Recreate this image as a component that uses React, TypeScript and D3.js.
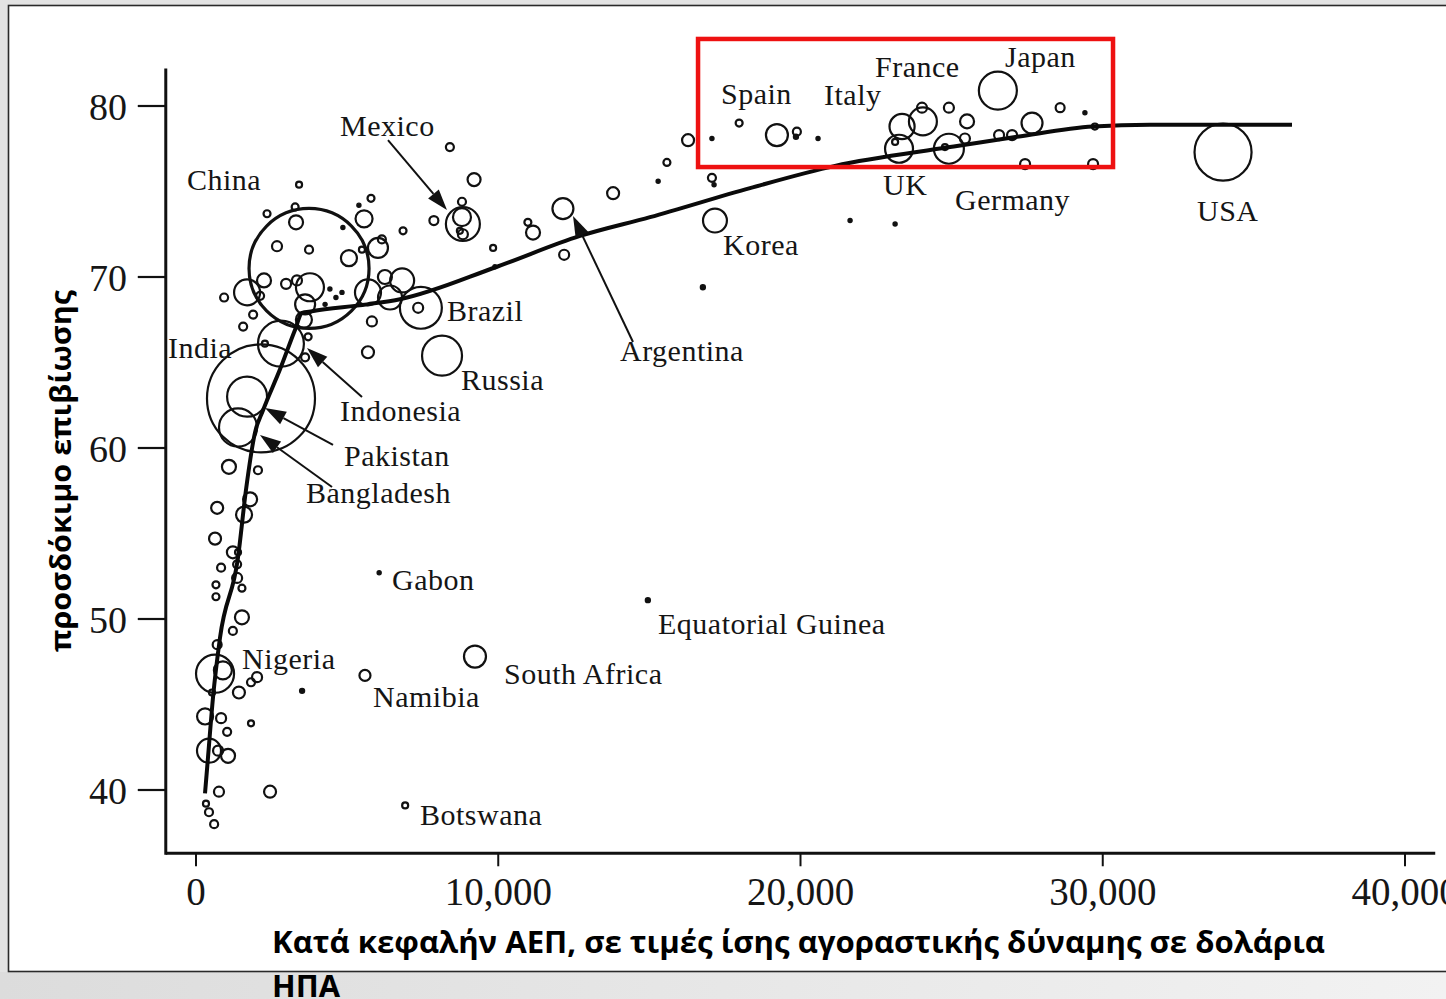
import React from 'react';
import * as d3 from 'd3';

// Axis ticks
const xTicks = [0, 10000, 20000, 30000, 40000];
const xTickLabels = ['0', '10,000', '20,000', '30,000', '40,000'];
const yTicks = [40, 50, 60, 70, 80];

// Fitted curve: [GDP per capita, life expectancy]
const curvePoints: [number, number][] = [
  [298, 39.8], [397, 41.9], [562, 45.4], [794, 48.9], [1390, 53.6], [1650, 57.5],
  [1952, 60.9], [2217, 62.2], [2780, 64.6], [3275, 66.9], [3507, 67.9], [3838, 68.0],
  [5658, 68.4], [6749, 68.7], [9959, 70.6], [12705, 72.4], [15021, 73.5], [18329, 75.2],
  [21141, 76.5], [24946, 77.6], [27163, 78.2], [29677, 78.8], [31563, 78.9], [36261, 78.9],
];

// Countries: [GDP per capita, life expectancy, population (millions)]
const labelledCountries: [number, number, number][] = [
  [3740, 70.5, 1235], [2150, 62.9, 1000], [2810, 66.1, 181], [1690, 63.0, 137],
  [1390, 61.2, 124], [7440, 68.2, 151], [8140, 65.4, 137], [630, 46.8, 124],
  [8830, 73.1, 99], [26530, 80.9, 124], [33980, 77.3, 279], [24910, 77.5, 77],
  [23260, 77.5, 67], [23360, 78.8, 54], [24050, 79.1, 67], [19220, 78.3, 41.5],
  [17170, 73.3, 49], [12140, 74.0, 37.8], [9230, 47.8, 41.5], [27660, 79.0, 37.8],
  [5590, 46.7, 10.4], [6060, 52.7, 1.4], [6920, 39.1, 3.1], [14950, 51.1, 2.1],
];

const middleCountries: [number, number, number][] = [
  [3410, 75.4, 3.1], [2350, 73.7, 4.2], [3280, 74.1, 4.2], [3310, 73.2, 16.8],
  [5790, 74.6, 4.2], [5390, 74.2, 1.4], [5560, 73.4, 24.8], [4860, 72.9, 1.4],
  [6850, 72.7, 4.2], [7870, 73.3, 6.9], [2680, 71.8, 8.6], [3740, 71.6, 5.5],
  [5060, 71.1, 22], [6020, 71.7, 34.3], [6150, 72.2, 5.5], [5490, 71.6, 3.1],
  [2250, 69.8, 16.8], [1690, 69.1, 58], [2120, 68.9, 5.5], [930, 68.8, 5.5],
  [2980, 69.6, 8.6], [3340, 69.8, 8.6], [3770, 69.4, 67.2], [3610, 68.4, 34.3],
  [4430, 69.3, 1.4], [4630, 68.8, 1.4], [4830, 69.1, 1.4], [4270, 68.4, 1.4],
  [5690, 69.1, 58], [6250, 70.0, 16.8], [6820, 69.8, 49.4], [6420, 68.8, 49.4],
  [7350, 68.2, 8.6], [1890, 67.8, 5.5], [1560, 67.1, 5.5], [5820, 67.4, 8.6],
  [5690, 65.6, 12.3], [3710, 66.5, 4.2], [2280, 66.1, 3.1], [3570, 67.5, 22],
  [3610, 65.3, 5.5],
  [8400, 77.6, 5.5], [9200, 75.7, 14.5], [8800, 74.4, 5.5], [8800, 73.5, 27.8],
  [8730, 72.7, 3.1], [8830, 72.5, 8.6], [9830, 71.7, 3.1], [10980, 73.2, 4.2],
  [11150, 72.6, 16.8], [12180, 71.3, 8.6], [9890, 70.6, 1.4], [13800, 74.9, 12.3],
  [15290, 75.6, 1.4], [15580, 76.7, 4.2], [17070, 75.8, 5.5], [17140, 75.4, 1.4],
  [16770, 69.4, 2.1],
];

const richCountries: [number, number, number][] = [
  [16280, 78.0, 12.3], [17070, 78.1, 1.4], [17970, 79.0, 4.2], [19880, 78.5, 5.5],
  [19850, 78.2, 2.1], [20580, 78.1, 1.4], [23130, 77.9, 3.1], [24020, 79.9, 8.6],
  [24910, 79.9, 8.6], [25510, 79.1, 16.8], [24780, 77.6, 3.1], [25440, 78.1, 8.6],
  [26570, 78.3, 8.6], [27000, 78.3, 8.6], [28590, 79.9, 6.9], [29410, 79.6, 1.4],
  [29740, 78.8, 3.1], [27430, 76.6, 8.6], [29680, 76.6, 8.6], [21640, 73.3, 1.4],
  [23130, 73.1, 1.4],
];

const poorCountries: [number, number, number][] = [
  [1090, 58.9, 16.8], [2050, 58.7, 5.5], [1790, 57.0, 16.8], [700, 56.5, 12.3],
  [1590, 56.1, 22], [630, 54.7, 12.3], [1220, 53.9, 12.3], [1390, 53.9, 3.1],
  [830, 53.0, 5.5], [1360, 53.2, 5.5], [1360, 52.4, 8.6], [660, 52.0, 4.2],
  [1520, 51.8, 4.2], [660, 51.3, 4.2], [1520, 50.1, 16.8], [1220, 49.3, 5.5],
  [700, 48.5, 6.9], [890, 47.0, 27.8], [2020, 46.6, 8.6], [1820, 46.3, 5.5],
  [1420, 45.7, 12.3], [530, 45.7, 3.1], [300, 44.3, 22], [830, 44.2, 8.6],
  [1030, 43.4, 5.5], [1820, 43.9, 3.1], [430, 42.3, 49.4], [1060, 42.0, 16.8],
  [730, 42.3, 8.6], [760, 39.9, 8.6], [2450, 39.9, 12.3], [330, 39.2, 3.1],
  [430, 38.7, 5.5], [600, 38.0, 5.5], [3510, 45.8, 2.1],
];

// Labels: [text, GDP (left edge), life expectancy (baseline)]
const labels: [string, number, number][] = [
  ['Mexico', 4764, 78.25], ['China', -298, 75.09], ['India', -926, 65.26],
  ['Brazil', 8304, 67.43], ['Russia', 8768, 63.39], ['Argentina', 14028, 65.09],
  ['Korea', 17436, 71.29], ['Indonesia', 4764, 61.58], ['Pakistan', 4897, 58.95],
  ['Bangladesh', 3639, 56.78], ['Gabon', 6485, 51.7], ['Equatorial Guinea', 15285, 49.12],
  ['Nigeria', 1522, 47.08], ['South Africa', 10190, 46.2], ['Namibia', 5856, 44.85],
  ['Botswana', 7411, 37.95], ['Spain', 17370, 80.12], ['Italy', 20777, 80.06],
  ['France', 22465, 81.7], ['Japan', 26766, 82.28], ['UK', 22729, 74.8],
  ['Germany', 25112, 73.92], ['USA', 33118, 73.27],
];

// Arrows: [tail GDP, tail LE, tip GDP, tip LE]
const arrows: [number, number, number, number][] = [
  [6352, 78.01, 8304, 73.92],
  [14458, 66.2, 12473, 73.57],
  [5492, 62.98, 3672, 65.85],
  [4533, 60.18, 2283, 62.34],
  [4500, 57.72, 2117, 60.76],
];

// Highlight box: [GDP from, GDP to, LE low, LE high]
const highlightBox = [16610, 30340, 76.43, 83.92];

const xTitle1 = 'Κατά κεφαλήν ΑΕΠ, σε τιμές ίσης αγοραστικής δύναμης σε δολάρια';
const xTitle2 = 'ΗΠΑ';
const yTitle = 'προσδόκιμο επιβίωσης';

export default function App() {
  const W = 1446;
  const H = 999;
  const x = d3.scaleLinear().domain([0, 40000]).range([196, 1405]);
  const y = d3.scaleLinear().domain([40, 80]).range([790, 106]);
  const r = d3.scaleSqrt().domain([0, 1000]).range([0, 54]);

  const line = d3
    .line<[number, number]>()
    .x((d) => x(d[0]))
    .y((d) => y(d[1]))
    .curve(d3.curveMonotoneX);

  const axisY = y(36.3);
  const axisX = x(-1000);
  const all = [...labelledCountries, ...middleCountries, ...richCountries, ...poorCountries];

  const serif = "'Liberation Serif', 'DejaVu Serif', serif";
  const sans = "'Open Sans', 'Noto Sans', sans-serif";

  return (
    <svg
      width={W}
      height={H}
      viewBox={`0 0 ${W} ${H}`}
      style={{ position: 'absolute', left: 0, top: 0, display: 'block' }}
    >
      <defs>
        <linearGradient id="bottomGrad" x1="0" x2="1" y1="0" y2="0">
          <stop offset="0" stopColor="#dcdcdc" />
          <stop offset="1" stopColor="#f2f2f2" />
        </linearGradient>
      </defs>
      <rect x={0} y={0} width={W} height={H} fill="#e3e3e3" />
      <rect x={0} y={972} width={W} height={H - 972} fill="url(#bottomGrad)" />
      <rect x={8.5} y={5.5} width={1450} height={966} fill="#ffffff" stroke="#2a2a2a" strokeWidth={1.6} />

      {/* Axes */}
      <line x1={axisX} x2={axisX} y1={y(82.2)} y2={axisY + 1.5} stroke="#111" strokeWidth={3} />
      <line x1={axisX} x2={x(41000)} y1={axisY} y2={axisY} stroke="#111" strokeWidth={3} />
      {yTicks.map((t) => (
        <g key={'y' + t}>
          <line x1={axisX - 28} x2={axisX} y1={y(t)} y2={y(t)} stroke="#111" strokeWidth={2.2} />
          <text x={127} y={y(t) + 14} textAnchor="end" fontFamily={serif} fontSize={38} fill="#161616">
            {t}
          </text>
        </g>
      ))}
      {xTicks.map((t, i) => (
        <g key={'x' + t}>
          <line x1={x(t)} x2={x(t)} y1={axisY} y2={axisY + 13} stroke="#111" strokeWidth={2} />
          <text x={x(t)} y={905} textAnchor="middle" fontFamily={serif} fontSize={39} fill="#161616">
            {xTickLabels[i]}
          </text>
        </g>
      ))}

      {/* Bubbles */}
      {all.map((d, i) => {
        const rr = r(d[2]);
        return (
          <circle
            key={'c' + i}
            cx={x(d[0])}
            cy={y(d[1])}
            r={Math.max(rr, 1.8)}
            fill={rr < 2.6 ? '#111' : 'none'}
            stroke="#111"
            strokeWidth={rr > 55 ? 3.2 : rr < 2.6 ? 1.4 : 2.2}
          />
        );
      })}

      {/* Curve */}
      <path d={line(curvePoints) || ''} fill="none" stroke="#0a0a0a" strokeWidth={4} strokeLinejoin="round" />

      {/* Arrows */}
      {arrows.map((a, i) => {
        const x1 = x(a[0]), y1 = y(a[1]), x2 = x(a[2]), y2 = y(a[3]);
        const ang = Math.atan2(y2 - y1, x2 - x1);
        const len = 21, hw = 7;
        const bx = x2 - len * Math.cos(ang), by = y2 - len * Math.sin(ang);
        const px = -Math.sin(ang) * hw, py = Math.cos(ang) * hw;
        return (
          <g key={'a' + i}>
            <line x1={x1} y1={y1} x2={bx} y2={by} stroke="#111" strokeWidth={2} />
            <polygon points={`${x2},${y2} ${bx + px},${by + py} ${bx - px},${by - py}`} fill="#111" />
          </g>
        );
      })}

      {/* Labels */}
      {labels.map((l) => (
        <text
          key={l[0]}
          x={x(l[1])}
          y={y(l[2])}
          fontFamily={serif}
          fontSize={30}
          letterSpacing={0.5}
          fill="#151515"
        >
          {l[0]}
        </text>
      ))}

      {/* Highlight box */}
      <rect
        x={x(highlightBox[0])}
        y={y(highlightBox[3])}
        width={x(highlightBox[1]) - x(highlightBox[0])}
        height={y(highlightBox[2]) - y(highlightBox[3])}
        fill="none"
        stroke="#ee1111"
        strokeWidth={4.5}
      />

      {/* Axis titles */}
      <text
        transform="translate(71,471) rotate(-90)"
        textAnchor="middle"
        fontFamily={sans}
        fontWeight={700}
        fontSize={28}
        textLength={362}
        lengthAdjust="spacingAndGlyphs"
        fill="#000"
      >
        {yTitle}
      </text>
      <text x={272} y={953} fontFamily={sans} fontWeight={700} fontSize={30} textLength={1053} lengthAdjust="spacingAndGlyphs" fill="#000">
        {xTitle1}
      </text>
      <text x={272} y={997} fontFamily={sans} fontWeight={700} fontSize={30} textLength={68} lengthAdjust="spacingAndGlyphs" fill="#000">
        {xTitle2}
      </text>
    </svg>
  );
}
